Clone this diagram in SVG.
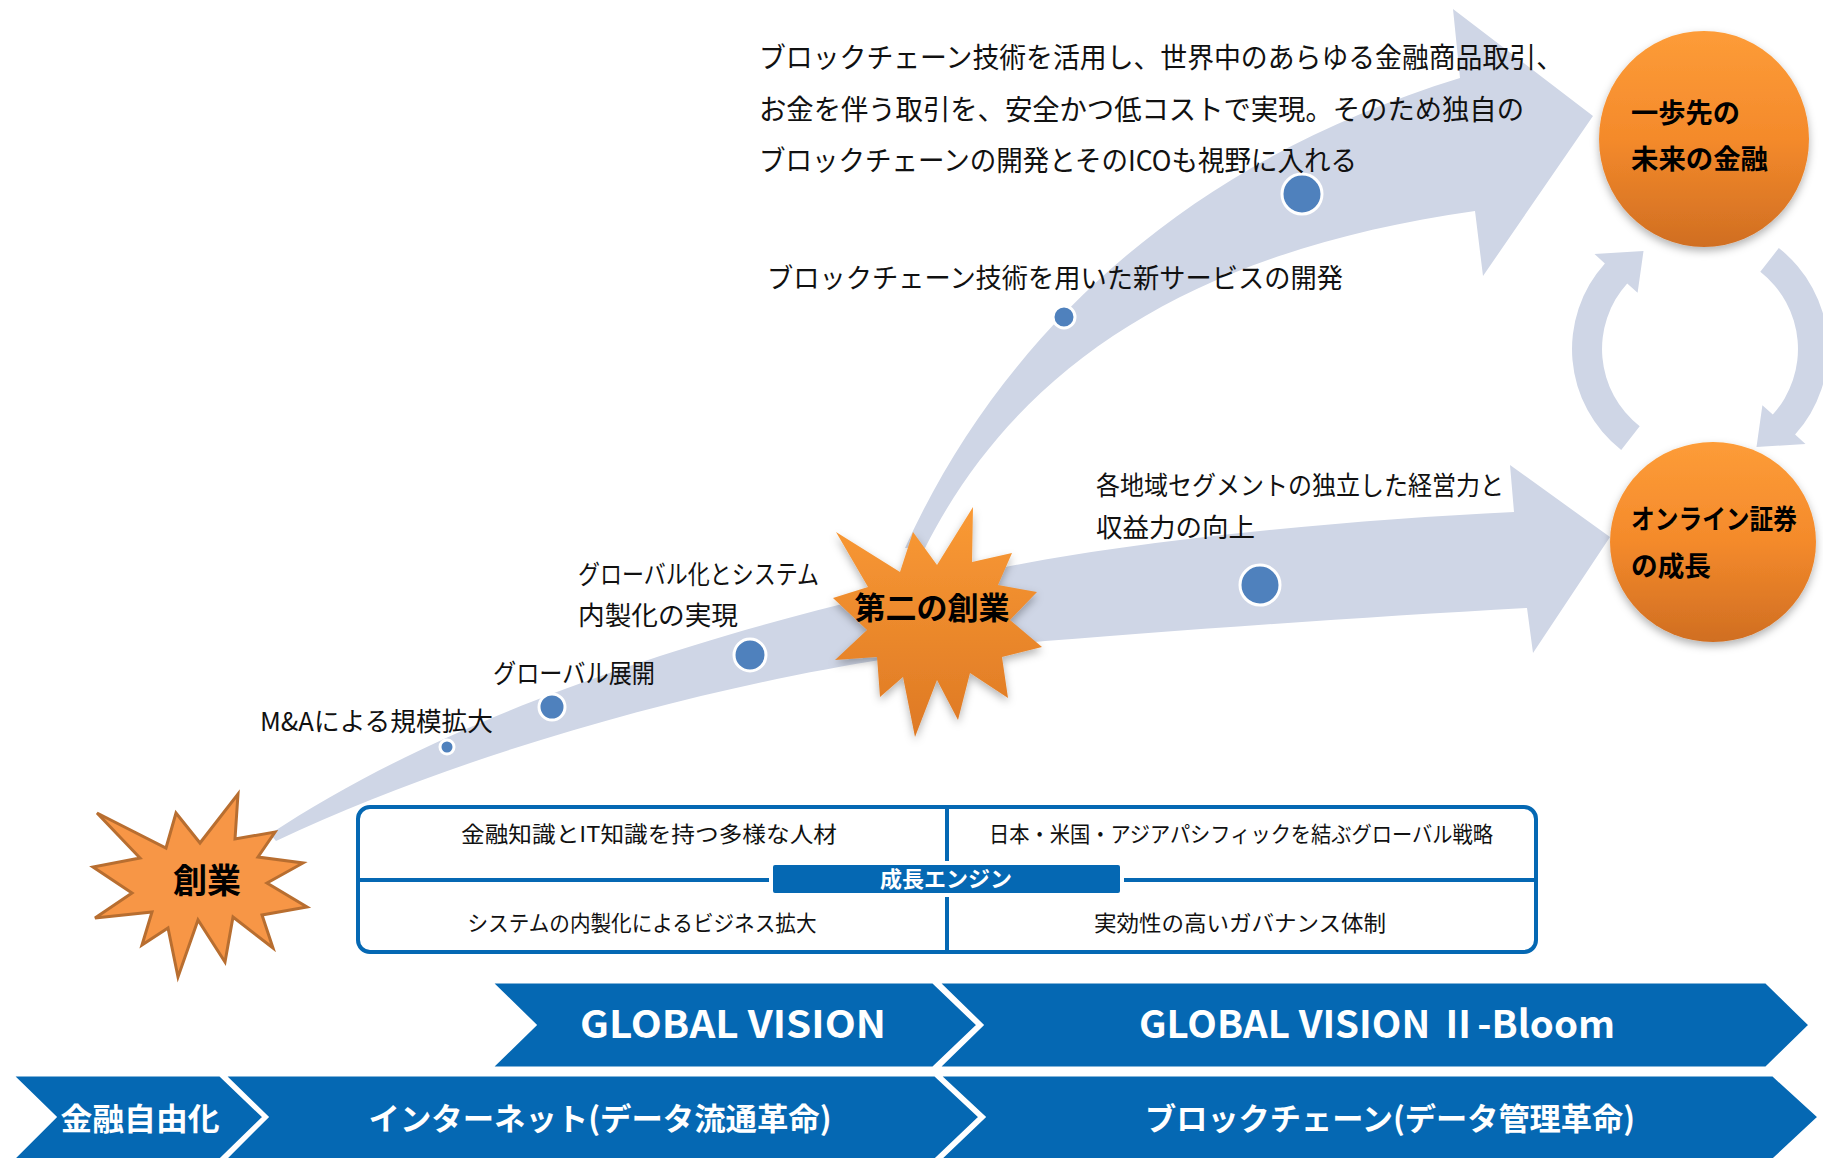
<svg xmlns="http://www.w3.org/2000/svg" width="1823" height="1158" viewBox="0 0 1823 1158">
<defs>
<style>
.band{fill:#CFD6E6}
.dot{fill:#4F81BD;stroke:#FFFFFF;stroke-width:3}
.t{font-family:"Noto Sans CJK JP","Noto Sans",sans-serif;fill:#111111}
.b{font-family:"Noto Sans CJK JP","Noto Sans",sans-serif;font-weight:700}
.chev{fill:#0568B3;stroke:#FFFFFF;stroke-width:3}
.wt{fill:#FFFFFF}
.cell{font-family:"Noto Sans CJK JP","Noto Sans",sans-serif;font-size:22px;fill:#111111;text-anchor:middle}
</style>
<linearGradient id="og" x1="0" y1="0" x2="0" y2="1">
<stop offset="0" stop-color="#FD9C38"/>
<stop offset="0.5" stop-color="#F48A2B"/>
<stop offset="1" stop-color="#D06E22"/>
</linearGradient>
<linearGradient id="sg" x1="0" y1="0" x2="0" y2="1">
<stop offset="0" stop-color="#FA9A35"/>
<stop offset="1" stop-color="#DE7924"/>
</linearGradient>
<filter id="sh" x="-20%" y="-20%" width="140%" height="150%">
<feDropShadow dx="0" dy="4" stdDeviation="4" flood-color="#000000" flood-opacity="0.3"/>
</filter>
</defs>
<rect width="1823" height="1158" fill="#FFFFFF"/>

<g id="connectors">
<path id="arrow-lower" class="band" d="M 270,834 C 420,735 650,640 1000,568 C 1150,538 1350,520 1514,512 L 1510,465 L 1610,537 L 1533,653 L 1527,608 C 1350,618 1150,632 1000,645 C 800,662 500,735 276,841 Z"/>
<path id="arrow-upper" class="band" d="M 905,548 C 990,360 1160,170 1460,78 L 1453,9 L 1593,116 L 1483,276 L 1475,211 C 1200,250 1020,360 925,548 Z"/>
<path id="cycle-left" class="band" d="M 1621.2,449.9 A 128 128 0 0 1 1604.9,263.4 L 1594.5,254 L 1643.5,251.1 L 1637.6,292.8 L 1627.2,283.4 A 98 98 0 0 0 1639.7,426.2 Z"/>
<path id="cycle-right" class="band" d="M 1778.8,248.1 A 128 128 0 0 1 1795.1,434.6 L 1805.5,444 L 1756.5,446.9 L 1762.4,405.2 L 1772.8,414.6 A 98 98 0 0 0 1760.3,271.8 Z"/>
</g>

<g id="milestones">
<circle class="dot" cx="447" cy="747" r="7"/>
<circle class="dot" cx="552" cy="707" r="13"/>
<circle class="dot" cx="750" cy="655" r="16"/>
<circle class="dot" cx="1260" cy="585" r="20"/>
<circle class="dot" cx="1064" cy="317" r="11"/>
<circle class="dot" cx="1302" cy="194" r="20"/>
</g>

<g id="labels">
<text class="t" font-size="28" x="759" y="68" textLength="804" lengthAdjust="spacingAndGlyphs">ブロックチェーン技術を活用し、世界中のあらゆる金融商品取引、</text>
<text class="t" font-size="28" x="759" y="120" textLength="765" lengthAdjust="spacingAndGlyphs">お金を伴う取引を、安全かつ低コストで実現。そのため独自の</text>
<text class="t" font-size="28" x="759" y="171" textLength="598" lengthAdjust="spacingAndGlyphs">ブロックチェーンの開発とそのICOも視野に入れる</text>
<text class="t" font-size="27" x="767" y="288" textLength="576" lengthAdjust="spacingAndGlyphs">ブロックチェーン技術を用いた新サービスの開発</text>
<text class="t" font-size="26" x="1096" y="495" textLength="408" lengthAdjust="spacingAndGlyphs">各地域セグメントの独立した経営力と</text>
<text class="t" font-size="26" x="1096" y="537" textLength="159" lengthAdjust="spacingAndGlyphs">収益力の向上</text>
<text class="t" font-size="26" x="578" y="584" textLength="241" lengthAdjust="spacingAndGlyphs">グローバル化とシステム</text>
<text class="t" font-size="26" x="578" y="625" textLength="160" lengthAdjust="spacingAndGlyphs">内製化の実現</text>
<text class="t" font-size="26" x="493" y="683" textLength="162" lengthAdjust="spacingAndGlyphs">グローバル展開</text>
<text class="t" font-size="26" x="260" y="731" textLength="233" lengthAdjust="spacingAndGlyphs">M&amp;Aによる規模拡大</text>
</g>

<g id="node-founding">
<polygon fill="#F79646" stroke="#B86E30" stroke-width="3" stroke-linejoin="miter" points="238,794 235,839 275,832 258,857 303,863 267,883 307,907 262,915 273,948 233,917 225,962 198,920 178,977 168,928 142,945 152,912 95,918 132,893 93,867 140,858 97,813 166,848 176,813 200,843"/>
<text class="b" font-size="34" x="207" y="893" text-anchor="middle" fill="#000000">創業</text>
</g>

<g id="node-second-founding">
<polygon fill="url(#sg)" filter="url(#sh)" points="973,507 972,562 1012,553 998,585 1037,592 1010,620 1042,647 1002,657 1008,698 970,673 958,720 937,680 915,737 903,677 880,697 877,657 835,660 867,630 833,598 868,587 836,532 900,572 913,532 937,565"/>
<text class="b" font-size="31" x="932" y="619" text-anchor="middle" fill="#000000">第二の創業</text>
</g>

<g id="node-future-finance">
<ellipse cx="1704" cy="139" rx="105" ry="108" fill="url(#og)" filter="url(#sh)"/>
<text class="b" font-size="27" x="1631" y="123" fill="#000000" textLength="109" lengthAdjust="spacingAndGlyphs">一歩先の</text>
<text class="b" font-size="27" x="1631" y="169" fill="#000000" textLength="137" lengthAdjust="spacingAndGlyphs">未来の金融</text>
</g>

<g id="node-online-securities">
<ellipse cx="1713" cy="542" rx="103" ry="100" fill="url(#og)" filter="url(#sh)"/>
<text class="b" font-size="27" x="1631" y="529" fill="#000000" textLength="166" lengthAdjust="spacingAndGlyphs">オンライン証券</text>
<text class="b" font-size="27" x="1631" y="576" fill="#000000" textLength="80" lengthAdjust="spacingAndGlyphs">の成長</text>
</g>

<g id="node-growth-engine">
<rect x="358" y="807" width="1178" height="145" rx="12" fill="#FFFFFF" stroke="#0568B3" stroke-width="4"/>
<line x1="358" y1="880" x2="1536" y2="880" stroke="#0568B3" stroke-width="4"/>
<line x1="947" y1="807" x2="947" y2="952" stroke="#0568B3" stroke-width="4"/>
<rect x="771" y="863" width="351" height="32" rx="4" fill="#0568B3" stroke="#FFFFFF" stroke-width="4"/>
<text class="b wt" font-size="22" x="946" y="887" text-anchor="middle">成長エンジン</text>
<text class="cell" x="649" y="842" textLength="376" lengthAdjust="spacingAndGlyphs">金融知識とIT知識を持つ多様な人材</text>
<text class="cell" x="1241" y="842" textLength="504" lengthAdjust="spacingAndGlyphs">日本・米国・アジアパシフィックを結ぶグローバル戦略</text>
<text class="cell" x="642" y="931" textLength="349" lengthAdjust="spacingAndGlyphs">システムの内製化によるビジネス拡大</text>
<text class="cell" x="1240" y="931" textLength="292" lengthAdjust="spacingAndGlyphs">実効性の高いガバナンス体制</text>
</g>

<g id="node-global-vision">
<polygon class="chev" points="491,982 933,982 978,1025 933,1068 491,1068 535,1025"/>
<text class="b wt" font-size="38" x="733" y="1038" text-anchor="middle" textLength="306" lengthAdjust="spacingAndGlyphs">GLOBAL VISION</text>
</g>
<g id="node-global-vision-2">
<polygon class="chev" points="938,982 1766,982 1810,1025 1766,1068 938,1068 982,1025"/>
<text class="b wt" font-size="38" x="1377" y="1038" text-anchor="middle" textLength="476" lengthAdjust="spacingAndGlyphs">GLOBAL VISION Ⅱ-Bloom</text>
</g>
<g id="node-liberalization">
<polygon class="chev" points="12,1075 220,1075 264,1117 220,1160 12,1160 55,1117"/>
<text class="b wt" font-size="31" x="140" y="1130" text-anchor="middle" textLength="159" lengthAdjust="spacingAndGlyphs">金融自由化</text>
</g>
<g id="node-internet">
<polygon class="chev" points="224,1075 935,1075 980,1117 935,1160 224,1160 267,1117"/>
<text class="b wt" font-size="31" x="600" y="1130" text-anchor="middle" textLength="463" lengthAdjust="spacingAndGlyphs">インターネット(データ流通革命)</text>
</g>
<g id="node-blockchain">
<polygon class="chev" points="939,1075 1773,1075 1819,1117 1773,1160 939,1160 984,1117"/>
<text class="b wt" font-size="31" x="1390" y="1130" text-anchor="middle" textLength="490" lengthAdjust="spacingAndGlyphs">ブロックチェーン(データ管理革命)</text>
</g>
</svg>
